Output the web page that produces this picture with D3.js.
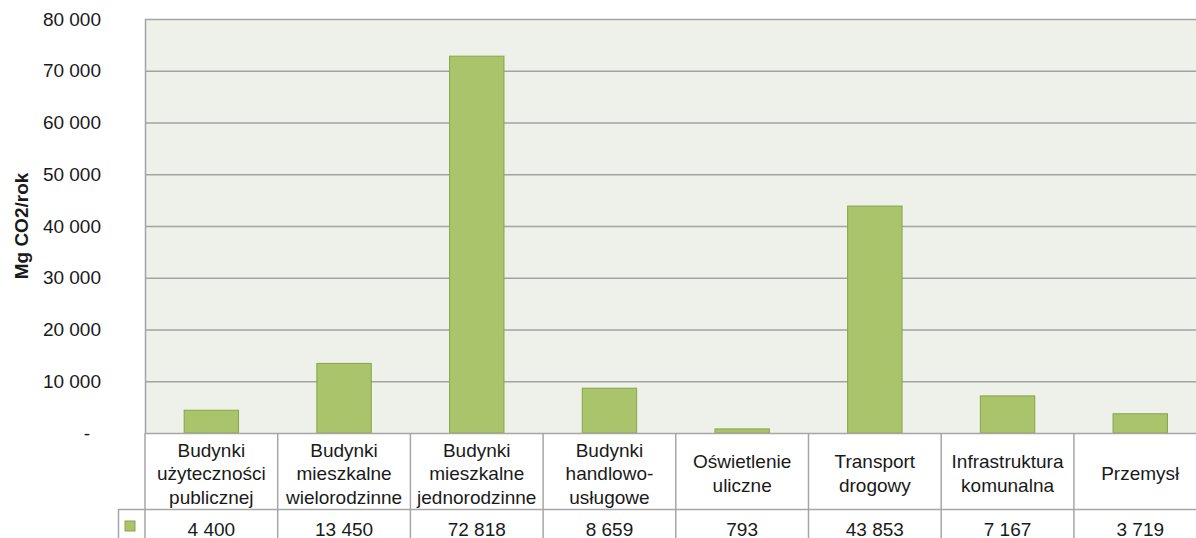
<!DOCTYPE html>
<html>
<head>
<meta charset="utf-8">
<script src="https://cdn.jsdelivr.net/npm/d3@7"></script>
<style>
  html, body { margin: 0; padding: 0; background: #fff; overflow: hidden; }
  svg { display: block; font-family: "Liberation Sans", Arial, sans-serif; }
</style>
</head>
<body>
<svg id="chart"></svg>
<script>
// Categories (table header lines) and values
const categories = [
  ['Budynki', 'użyteczności', 'publicznej'],
  ['Budynki', 'mieszkalne', 'wielorodzinne'],
  ['Budynki', 'mieszkalne', 'jednorodzinne'],
  ['Budynki', 'handlowo-', 'usługowe'],
  ['Oświetlenie', 'uliczne'],
  ['Transport', 'drogowy'],
  ['Infrastruktura', 'komunalna'],
  ['Przemysł']
];
const values = [4400, 13450, 72818, 8659, 793, 43853, 7167, 3719];
const yTicks = [0, 10000, 20000, 30000, 40000, 50000, 60000, 70000, 80000];
const yTitle = 'Mg CO2/rok';

const width = 1196, height = 538;
const margin = { top: 19, left: 145 };
const plotBottom = 433;
const colWidth = 132.7;
const plotRight = margin.left + colWidth * categories.length;
const headerBottom = 509;
const valueBottom = 548;
const fontSize = '19px';

const colors = {
  plotBg: '#eef1e9',
  grid: '#a3a3a3',
  bar: '#a9c46b',
  barStroke: '#87a54a',
  table: '#a6a6a6',
  text: '#1a1a1a'
};

const pl = d3.formatLocale({ decimal: ',', thousands: ' ', grouping: [3], currency: ['', ' zł'] });
const fmt = pl.format(',d');

const svg = d3.select('#chart')
  .attr('width', width)
  .attr('height', height);

const x = d3.scaleBand()
  .domain(d3.range(categories.length))
  .range([margin.left, plotRight])
  .padding(0);

const y = d3.scaleLinear()
  .domain([0, 80000])
  .range([plotBottom, margin.top]);

// Plot background
svg.append('rect')
  .attr('x', margin.left)
  .attr('y', margin.top)
  .attr('width', plotRight - margin.left)
  .attr('height', plotBottom - margin.top)
  .attr('fill', colors.plotBg);

// Grid lines
const grid = svg.append('g')
  .attr('transform', `translate(${margin.left},0)`)
  .call(d3.axisLeft(y).tickValues(yTicks.slice(1)).tickSize(-(plotRight - margin.left)).tickFormat(''));
grid.select('.domain').remove();
grid.selectAll('.tick line').attr('stroke', colors.grid).attr('stroke-width', 1.5);

// Y axis labels
const yAxis = svg.append('g')
  .attr('transform', `translate(101,0)`)
  .call(d3.axisLeft(y).tickValues(yTicks).tickSize(0).tickPadding(0)
    .tickFormat(d => d === 0 ? '-' : fmt(d)));
yAxis.select('.domain').remove();
yAxis.selectAll('text')
  .attr('fill', colors.text)
  .style('font-size', fontSize)
  .style('font-family', '"Liberation Sans", Arial, sans-serif');
yAxis.selectAll('.tick').filter(d => d === 0).select('text').attr('dx', -11);

// Left border of plot
svg.append('line')
  .attr('x1', margin.left + 0.5).attr('x2', margin.left + 0.5)
  .attr('y1', margin.top).attr('y2', plotBottom)
  .attr('stroke', colors.grid).attr('stroke-width', 1.5);

// Y title
svg.append('text')
  .attr('transform', `translate(28,${(margin.top + plotBottom) / 2}) rotate(-90)`)
  .attr('text-anchor', 'middle')
  .style('font-size', fontSize)
  .style('font-weight', 'bold')
  .attr('fill', colors.text)
  .text(yTitle);

// Bars
const barW = x.bandwidth() * 0.41;
svg.append('g')
  .selectAll('rect')
  .data(values)
  .enter()
  .append('rect')
  .attr('x', (d, i) => x(i) + (x.bandwidth() - barW) / 2)
  .attr('y', d => y(d))
  .attr('width', barW)
  .attr('height', d => y(0) - y(d))
  .attr('fill', colors.bar)
  .attr('stroke', colors.barStroke)
  .attr('stroke-width', 1);

// Data table
const table = svg.append('g');
// horizontal lines
[plotBottom, headerBottom].forEach((yy, k) => {
  table.append('line')
    .attr('x1', k === 0 ? margin.left : 118).attr('x2', plotRight)
    .attr('y1', yy + 0.5).attr('y2', yy + 0.5)
    .attr('stroke', colors.table).attr('stroke-width', 1.5);
});
// vertical lines
d3.range(categories.length + 1).forEach(i => {
  const xx = margin.left + i * colWidth;
  table.append('line')
    .attr('x1', xx).attr('x2', xx)
    .attr('y1', plotBottom).attr('y2', valueBottom)
    .attr('stroke', colors.table).attr('stroke-width', 1.5);
});
// legend key cell
table.append('line')
  .attr('x1', 118.5).attr('x2', 118.5)
  .attr('y1', headerBottom).attr('y2', valueBottom)
  .attr('stroke', colors.table).attr('stroke-width', 1.5);
table.append('rect')
  .attr('x', 125).attr('y', 521)
  .attr('width', 10).attr('height', 10)
  .attr('fill', colors.bar)
  .attr('stroke', colors.barStroke);

// header labels
const lineH = 23.5;
const headerMid = 474;
table.selectAll('.cat')
  .data(categories)
  .enter()
  .append('text')
  .attr('class', 'cat')
  .attr('text-anchor', 'middle')
  .attr('fill', colors.text)
  .style('font-size', fontSize)
  .each(function (lines, i) {
    const t = d3.select(this);
    lines.forEach((ln, j) => {
      t.append('tspan')
        .attr('x', x(i) + x.bandwidth() / 2)
        .attr('y', headerMid + (j - (lines.length - 1) / 2) * lineH + 6)
        .text(ln);
    });
  });

// value labels
table.selectAll('.val')
  .data(values)
  .enter()
  .append('text')
  .attr('class', 'val')
  .attr('x', (d, i) => x(i) + x.bandwidth() / 2)
  .attr('y', 536)
  .attr('text-anchor', 'middle')
  .attr('fill', colors.text)
  .style('font-size', fontSize)
  .text(d => fmt(d));
</script>
</body>
</html>
